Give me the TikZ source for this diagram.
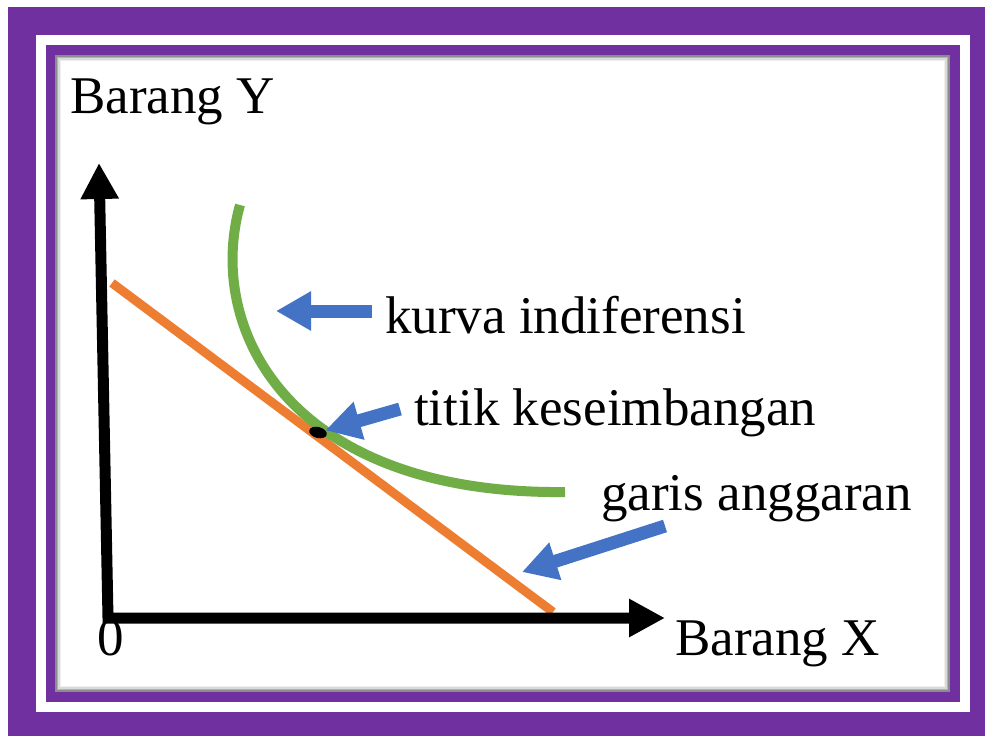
\documentclass[tikz,border=0pt]{standalone}
\usepackage{fontspec}
\setmainfont{Liberation Serif}
\usetikzlibrary{arrows.meta,shapes.geometric}
\definecolor{framepurple}{HTML}{7030A0}
\definecolor{budgetorange}{HTML}{ED7D31}
\definecolor{curvegreen}{HTML}{70AD47}
\definecolor{pointerblue}{HTML}{4472C4}

\begin{document}
\begin{tikzpicture}
[
    x=1pt, y=-1pt,
    axis/.style={line width=11pt, line join=miter,
        {Triangle[length=36pt,width=36pt]}-{Triangle[length=36pt,width=36pt]}},
    pointer/.style={pointerblue, line width=13pt, -{Triangle[length=35pt,width=37pt]}},
    caption/.style={inner sep=0pt, anchor=base west, font=\fontsize{53}{60}\selectfont}
]
    \useasboundingbox (0,0) rectangle (985,736);
    % frame
    \fill[framepurple] (8,7) rectangle (985,736);
    \fill[white] (36,35) rectangle (970,712);
    \fill[framepurple] (46,45) rectangle (960,702);
    \fill[white] (55,55) rectangle (950,692);
    \foreach \d/\o in {1/0.45, 2.5/0.3, 4/0.15, 5.5/0.06}
        \draw[black, opacity=\o, line width=1.5pt] (55+\d,55+\d) rectangle (950-\d,692-\d);

    % budget line and indifference curve
    \coordinate (budgetTop) at (112,283);
    \coordinate (budgetEnd) at (553,612);
    \draw[budgetorange, line width=9pt] (budgetTop) -- (budgetEnd);
    \coordinate (curveTop) at (240,205);
    \coordinate (curveEnd) at (565,492);
    \draw[curvegreen, line width=10pt] (curveTop) .. controls (205,330) and (290,495) .. (curveEnd);

    % axes
    \coordinate (O) at (108,618);
    \coordinate (yTip) at (99,163);
    \coordinate (xTip) at (665,618);
    \draw[axis] (yTip) -- (O) -- (xTip);

    \node[ellipse, fill=black, inner sep=0pt, minimum width=18pt, minimum height=11pt,
        rotate=-15] (eq) at (318,432.5) {};

    % labels
    \node[caption] (yLabel) at (70,113) {Barang Y};
    \node[caption] (xLabel) at (675,655) {Barang X};
    \node[caption] (zero) at (97,655) {0};
    \node[caption] (kurva) at (385,333) {kurva indiferensi};
    \node[caption] (titik) at (414,425) {titik keseimbangan};
    \node[caption] (garis) at (601,510) {garis anggaran};

    % pointers
    \coordinate (kurvaTail) at (372,311);
    \coordinate (kurvaTip) at (276,311);
    \coordinate (titikTail) at (400,409);
    \coordinate (garisTail) at (665,526);
    \coordinate (garisTip) at (522,572);
    \draw[pointer] (kurvaTail) -- (kurvaTip);
    \draw[pointer] (titikTail) -- (eq);
    \draw[pointer] (garisTail) -- (garisTip);
\end{tikzpicture}
\end{document}
